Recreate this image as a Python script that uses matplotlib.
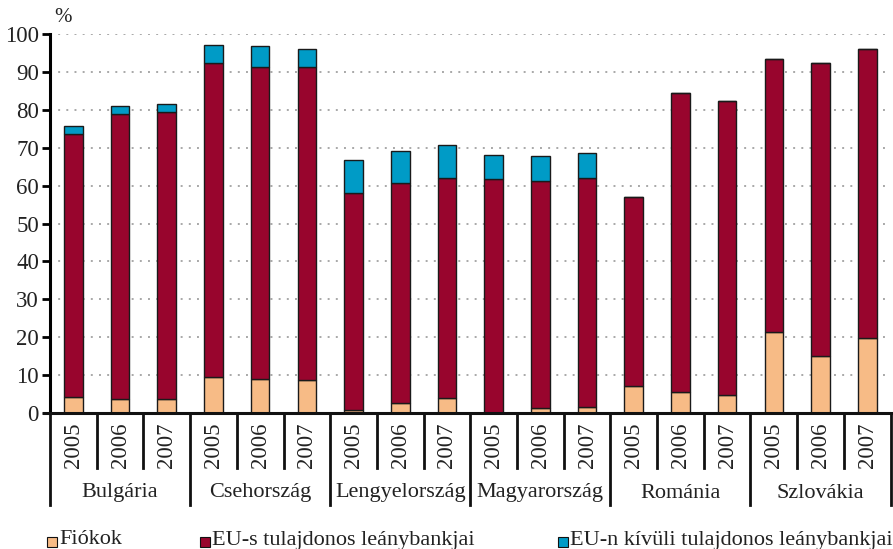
import matplotlib
matplotlib.use("Agg")
import matplotlib.pyplot as plt
import matplotlib.transforms as mtransforms
from matplotlib.patches import Rectangle

countries = ["Bulgária", "Csehország", "Lengyelország", "Magyarország", "Románia", "Szlovákia"]
years = ["2005", "2006", "2007"]

# component values (%), order: countries x years
fiokok = [4.1, 3.8, 3.8, 9.4, 9.1, 8.7, 0.8, 2.7, 3.9, 0.0, 1.3, 1.6, 7.0, 5.5, 4.8, 21.3, 15.0, 19.7]
eu_s_total = [73.7, 79.0, 79.4, 92.3, 91.2, 91.4, 58.0, 60.7, 62.0, 61.8, 61.1, 61.9, 57.1, 84.5, 82.3, 93.3, 92.4, 96.0]
grand_total = [75.6, 81.1, 81.5, 97.2, 96.8, 96.0, 66.7, 69.0, 70.6, 68.0, 67.7, 68.6, 57.1, 84.5, 82.3, 93.3, 92.4, 96.0]
eu_s = [t - f for t, f in zip(eu_s_total, fiokok)]
eu_kivuli = [g - t for g, t in zip(grand_total, eu_s_total)]

legend_labels = ["Fiókok", "EU-s tulajdonos leánybankjai", "EU-n kívüli tulajdonos leánybankjai"]
colors = ["#F7BB86", "#98052D", "#009BC6"]

FONT = "Liberation Serif"
plt.rcParams["font.family"] = [FONT, "DejaVu Serif"]

W, H = 893, 549
fig = plt.figure(figsize=(W / 100, H / 100), dpi=100)
ax_left, ax_right, ax_top, ax_bot = 50, 890.6, 34, 413
ax = fig.add_axes([ax_left / W, 1 - ax_bot / H, (ax_right - ax_left) / W, (ax_bot - ax_top) / H])

n = len(fiokok)
x = [i + 0.5 for i in range(n)]
bw = 0.4
ek = dict(edgecolor="#1a1a1a", linewidth=1.0)
ax.bar(x, fiokok, width=bw, color=colors[0], zorder=3, **ek)
ax.bar(x, eu_s, width=bw, bottom=fiokok, color=colors[1], zorder=3, **ek)
ax.bar(x, eu_kivuli, width=bw, bottom=eu_s_total, color=colors[2], zorder=3, **ek)

ax.set_xlim(0, n)
ax.set_ylim(0, 100)
ax.set_yticks(range(0, 101, 10))
ax.set_yticklabels([str(v) for v in range(0, 101, 10)], fontsize=16.5, color="#222222")
ax.tick_params(axis="y", length=6, width=2, pad=2, direction="out")
ax.set_xticks([])
for yv in range(10, 101, 10):
    ax.axhline(yv, color="#a8a8a8", linewidth=1.4, linestyle=(0, (1, 3.2)), zorder=1)

for s in ["top", "right"]:
    ax.spines[s].set_visible(False)
ax.spines["left"].set_linewidth(2.2)
ax.spines["bottom"].set_visible(False)
ax.spines["left"].set_zorder(5)

# bottom line across
fig.add_artist(plt.Line2D([44 / W, 1.0], [1 - ax_bot / H, 1 - ax_bot / H], color="#111111", linewidth=2.2, zorder=6))

trans = mtransforms.blended_transform_factory(ax.transData, fig.transFigure)

def fy(p):
    return 1 - p / H

# separators
for i in range(n + 1):
    y_end = 505 if i % 3 == 0 else 468
    ax.plot([i, i], [fy(ax_bot), fy(y_end)], transform=trans, color="#111111", linewidth=2.0, clip_on=False)

# year labels
for i in range(n):
    ax.text(x[i], fy(445), years[i % 3], transform=trans, rotation=90, ha="center", va="center",
            fontsize=16.5, color="#222222")

# country labels
for c, name in enumerate(countries):
    ax.text(c * 3 + 1.5, fy(493), name, transform=trans, ha="center", va="center",
            fontsize=16, color="#222222")

# % label
fig.text(54 / W, fy(18), "%", ha="left", va="center", fontsize=15, color="#222222")

# legend
leg_pos = [47, 200, 558]
for px, lab, col in zip(leg_pos, legend_labels, colors):
    fig.add_artist(Rectangle((px / W, fy(547)), 10 / W, 10 / H, facecolor=col, edgecolor="#111111",
                             linewidth=0.8, transform=fig.transFigure))
    fig.text((px + 12) / W, fy(540), lab, ha="left", va="center", fontsize=16, color="#222222")

fig.savefig("out.png", dpi=100)
